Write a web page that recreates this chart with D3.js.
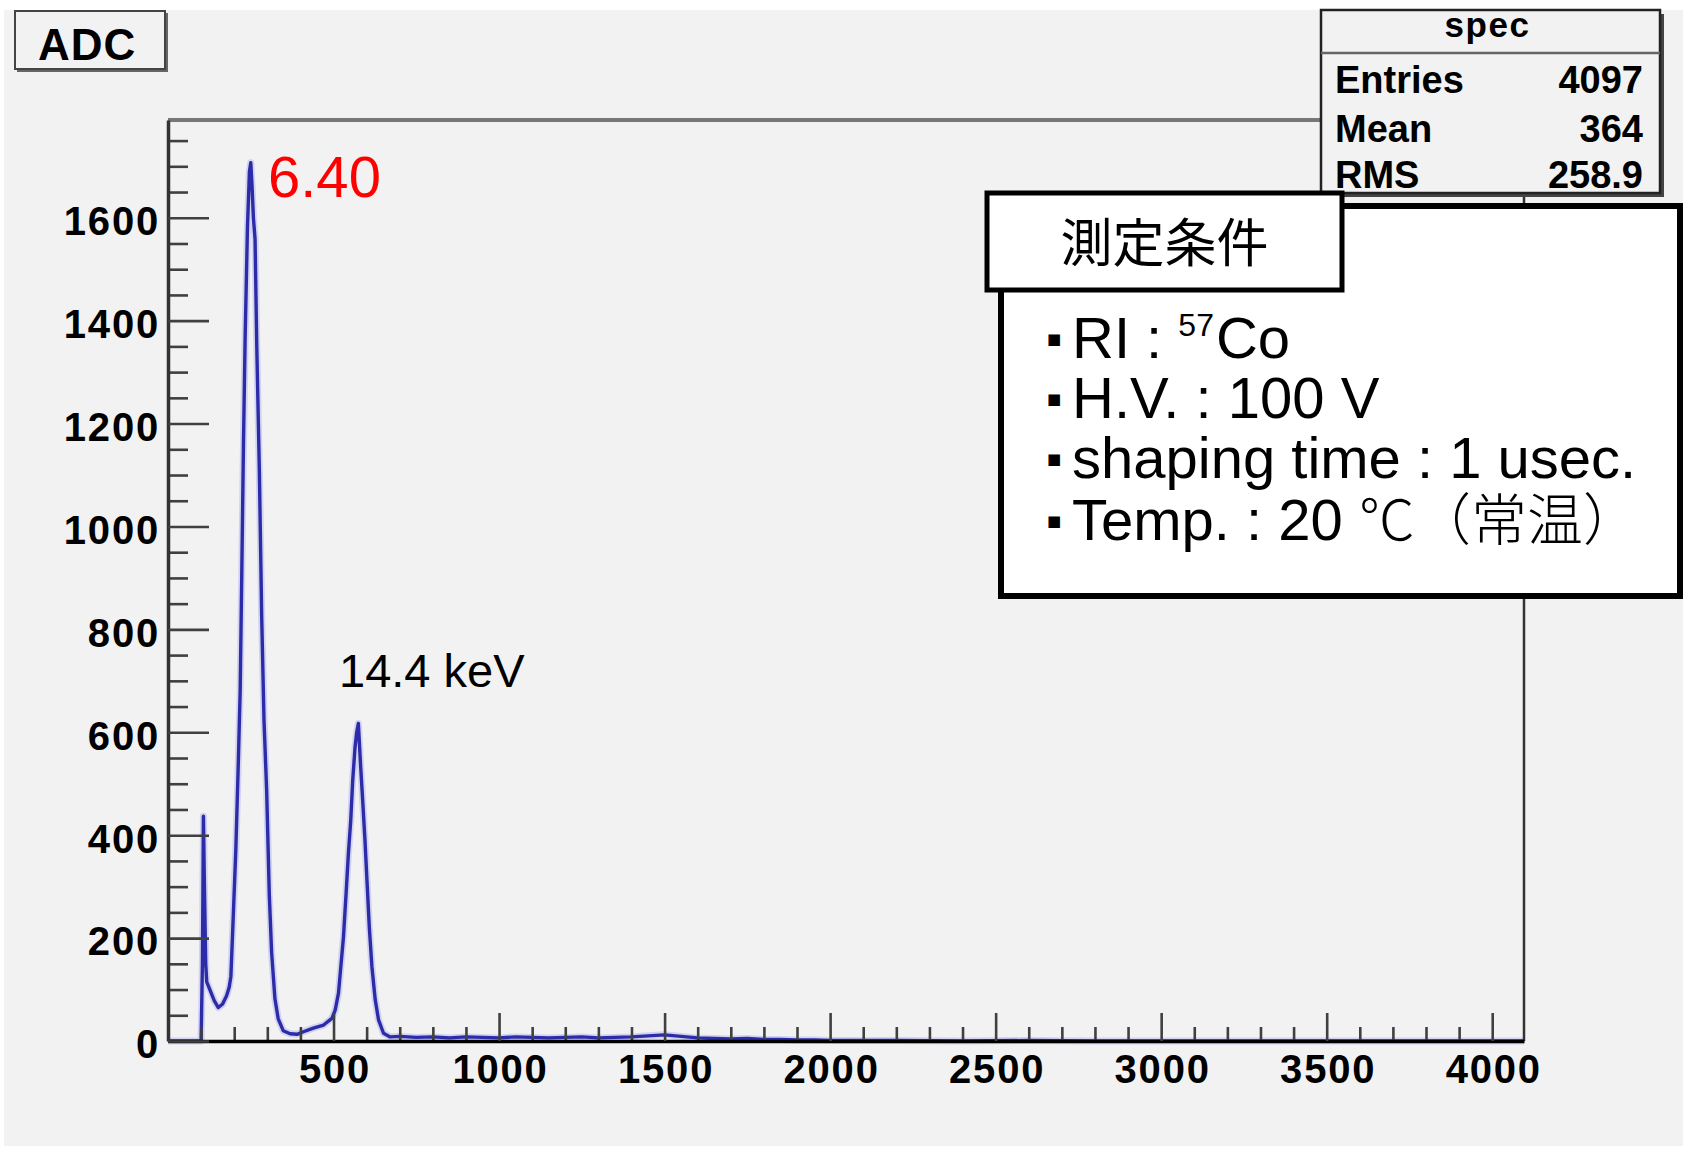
<!DOCTYPE html>
<html>
<head>
<meta charset="utf-8">
<script src="https://cdn.jsdelivr.net/npm/d3@7"></script>
<style>
  body { margin: 0; background: #ffffff; }
  svg { display: block; }
</style>
</head>
<body>
<svg id="canvas" width="1683" height="1149"></svg>
<script>
// ADC spectrum of a 57Co source (channel -> counts)
const channels = [
  0, 100, 104, 107, 110, 114, 117, 127, 140, 152, 165, 177, 185, 190, 197,
  205, 212, 218, 223, 228, 233, 240, 246, 250, 254, 258, 263, 268, 276, 283,
  290, 298, 306, 313, 323, 333, 348, 369, 390, 409, 439, 470, 495, 505, 515,
  522, 530, 538, 545, 552, 558, 565, 570, 575, 582, 588, 595, 602, 608, 616,
  626, 636, 651, 671, 700, 750, 800, 850, 900, 950, 1000, 1050, 1100, 1150,
  1200, 1250, 1300, 1350, 1400, 1450, 1500, 1550, 1600, 1650, 1700, 1750,
  1800, 1850, 1900, 1950, 2000, 2100, 2200, 2400, 2600, 2800, 3000, 3500, 4096
];
const counts = [
  0, 0, 150, 437, 300, 150, 115, 99, 78, 65, 72, 88, 105, 126, 240,
  374, 532, 680, 915, 1163, 1367, 1581, 1690, 1707, 1660, 1600, 1558, 1355, 1107, 825,
  623, 487, 284, 172, 82, 43, 20, 14, 13, 18, 25, 31, 44, 60, 93,
  144, 202, 287, 365, 429, 507, 571, 600, 617, 533, 468, 390, 300, 222, 144,
  80, 41, 15, 8, 9, 7, 8, 6, 8, 7, 6, 8, 7, 6,
  7, 8, 6, 7, 8, 10, 12, 9, 6, 5, 4, 5,
  3, 3, 2, 2, 1, 1, 1, 0, 1, 0, 0, 0, 0
];

// axis ticks
const xMajorTicks = [500, 1000, 1500, 2000, 2500, 3000, 3500, 4000];
const xMinorTicks = d3.range(100, 4001, 100).filter(v => v % 500 !== 0);
const yMajorTicks = [0, 200, 400, 600, 800, 1000, 1200, 1400, 1600];
const yMinorTicks = d3.range(50, 1751, 50).filter(v => v % 200 !== 0);

// statistics box
const statsTitle = "spec";
const statsLabels = ["Entries", "Mean", "RMS"];
const statsValues = ["4097", "364", "258.9"];

// peak annotations
const peakLabel = "6.40";
const secondPeakLabel = "14.4 keV";
const histTitle = "ADC";

// measurement conditions
const conditionsTitle = "測定条件";

const svg = d3.select("#canvas");
const W = 1683;
const frame = { left: 168, right: 1524, top: 120, bottom: 1041 };

const x = d3.scaleLinear().domain([0, 4096]).range([frame.left, frame.right]);
const y = d3.scaleLinear().domain([0, 1790]).range([frame.bottom, frame.top]);

const LAT = "'Liberation Sans', Arial, Helvetica, sans-serif";
const CJK = "'Noto Sans CJK JP', 'Noto Sans CJK SC', sans-serif";

// canvas
svg.append("rect").attr("x", 4).attr("y", 10).attr("width", W - 4).attr("height", 1136)
  .attr("fill", "#f2f2f2");

// histogram trace
const line = d3.line().x((d, i) => x(channels[i])).y((d, i) => y(counts[i]));
const trace = svg.append("g");
trace.append("path").datum(counts).attr("d", line)
  .attr("fill", "none").attr("stroke", "#b8b8f0").attr("stroke-width", 7)
  .attr("stroke-linejoin", "round").attr("opacity", 0.55);
trace.append("path").datum(counts).attr("d", line)
  .attr("fill", "none").attr("stroke", "#2c2ca8").attr("stroke-width", 3.4)
  .attr("stroke-linejoin", "round");

// frame top / right
svg.append("line").attr("x1", frame.left).attr("x2", frame.right)
  .attr("y1", frame.top).attr("y2", frame.top)
  .attr("stroke", "#777").attr("stroke-width", 4);
svg.append("line").attr("x1", frame.right).attr("x2", frame.right)
  .attr("y1", frame.top).attr("y2", frame.bottom)
  .attr("stroke", "#333").attr("stroke-width", 2.5);

function styleTicks(g) {
  g.selectAll(".tick line").attr("stroke", "#404040").attr("stroke-width", 2.6);
  g.selectAll(".tick text").attr("fill", "#000").attr("font-family", LAT)
    .attr("font-weight", "bold").attr("font-size", 40).attr("letter-spacing", 1.8);
}

// x axis
const gxMinor = svg.append("g").attr("transform", `translate(0,${frame.bottom})`)
  .call(d3.axisBottom(x).tickValues(xMinorTicks).tickSize(-14).tickSizeOuter(0).tickFormat(""));
gxMinor.select(".domain").remove();
styleTicks(gxMinor);
const gx = svg.append("g").attr("transform", `translate(0,${frame.bottom})`)
  .call(d3.axisBottom(x).tickValues(xMajorTicks).tickSize(-28).tickSizeOuter(0)
    .tickPadding(14).tickFormat(d3.format("d")));
gx.select(".domain").attr("stroke", "#000").attr("stroke-width", 3.5);
styleTicks(gx);
gx.selectAll(".tick text").attr("dx", 1);

// y axis
const gyMinor = svg.append("g").attr("transform", `translate(${frame.left},0)`)
  .call(d3.axisLeft(y).tickValues(yMinorTicks).tickSize(-20).tickSizeOuter(0).tickFormat(""));
gyMinor.select(".domain").remove();
styleTicks(gyMinor);
const gy = svg.append("g").attr("transform", `translate(${frame.left},0)`)
  .call(d3.axisLeft(y).tickValues(yMajorTicks).tickSize(-41).tickSizeOuter(0)
    .tickPadding(8).tickFormat(d3.format("d")));
gy.select(".domain").attr("stroke", "#333").attr("stroke-width", 3.5);
styleTicks(gy);
gy.selectAll(".tick text").attr("dy", "0.42em");

// peak annotations
svg.append("text").attr("x", 268).attr("y", 197).attr("fill", "#ff0000")
  .attr("font-family", LAT).attr("font-size", 58).text(peakLabel);
svg.append("text").attr("x", 339).attr("y", 687).attr("fill", "#000")
  .attr("font-family", LAT).attr("font-size", 47).text(secondPeakLabel);

// title box
svg.append("rect").attr("x", 17).attr("y", 13).attr("width", 151).attr("height", 59).attr("fill", "#666");
svg.append("rect").attr("x", 15).attr("y", 11).attr("width", 150).attr("height", 58)
  .attr("fill", "#f2f2f2").attr("stroke", "#444").attr("stroke-width", 2);
svg.append("text").attr("x", 38).attr("y", 60).attr("font-family", LAT)
  .attr("font-weight", "bold").attr("font-size", 44).attr("letter-spacing", 1).attr("fill", "#000").text(histTitle);

// statistics box
const sb = { x: 1321, y: 10, w: 339, h: 183 };
svg.append("rect").attr("x", sb.x + 4).attr("y", sb.y + 4).attr("width", sb.w).attr("height", sb.h).attr("fill", "#444");
svg.append("rect").attr("x", sb.x).attr("y", sb.y).attr("width", sb.w).attr("height", sb.h)
  .attr("fill", "#f2f2f2").attr("stroke", "#222").attr("stroke-width", 2.5);
svg.append("line").attr("x1", sb.x).attr("x2", sb.x + sb.w).attr("y1", 53).attr("y2", 53)
  .attr("stroke", "#666").attr("stroke-width", 2.5);
svg.append("text").attr("x", sb.x + sb.w / 2 - 3).attr("y", 37).attr("text-anchor", "middle")
  .attr("font-family", LAT).attr("font-weight", "bold").attr("font-size", 35)
  .attr("letter-spacing", 1.5).text(statsTitle);
const statBase = [93, 141.5, 188];
statsLabels.forEach((lab, i) => {
  svg.append("text").attr("x", 1335).attr("y", statBase[i]).attr("font-family", LAT)
    .attr("font-weight", "bold").attr("font-size", 38).text(lab);
  svg.append("text").attr("x", 1643).attr("y", statBase[i]).attr("text-anchor", "end")
    .attr("font-family", LAT).attr("font-weight", "bold").attr("font-size", 38).text(statsValues[i]);
});

// measurement conditions box
svg.append("rect").attr("x", 1001).attr("y", 206).attr("width", 679).attr("height", 390)
  .attr("fill", "#ffffff").attr("stroke", "#000").attr("stroke-width", 6);
svg.append("rect").attr("x", 987).attr("y", 193).attr("width", 355).attr("height", 97)
  .attr("fill", "#ffffff").attr("stroke", "#000").attr("stroke-width", 5);
svg.append("text").attr("x", 1164.5).attr("y", 262).attr("text-anchor", "middle")
  .attr("font-family", CJK).attr("font-size", 52).text(conditionsTitle);

const condBase = [358, 418, 478, 540];
const conditions = [
  [{ t: "RI : " }, { t: "57", sup: true }, { t: "Co", after: true }],
  [{ t: "H.V. : 100 V" }],
  [{ t: "shaping time : 1 usec." }],
  [{ t: "Temp. : 20 " }, { t: "℃（常温）", cjk: true }]
];
conditions.forEach((parts, i) => {
  svg.append("text").attr("x", 1054).attr("y", condBase[i] - 14).attr("text-anchor", "middle")
    .attr("font-family", "'DejaVu Sans'").attr("font-size", 15).text("■");
  const t = svg.append("text").attr("x", 1072).attr("y", condBase[i])
    .attr("font-family", LAT).attr("font-size", 58).attr("fill", "#000");
  parts.forEach(p => {
    const s = t.append("tspan").text(p.t);
    if (p.sup) s.attr("font-size", 32).attr("dy", -22);
    if (p.after) s.attr("dy", 22).attr("dx", 2);
    if (p.cjk) s.attr("font-family", CJK).attr("font-weight", 300).attr("font-size", 56);
  });
});
</script>
</body>
</html>
